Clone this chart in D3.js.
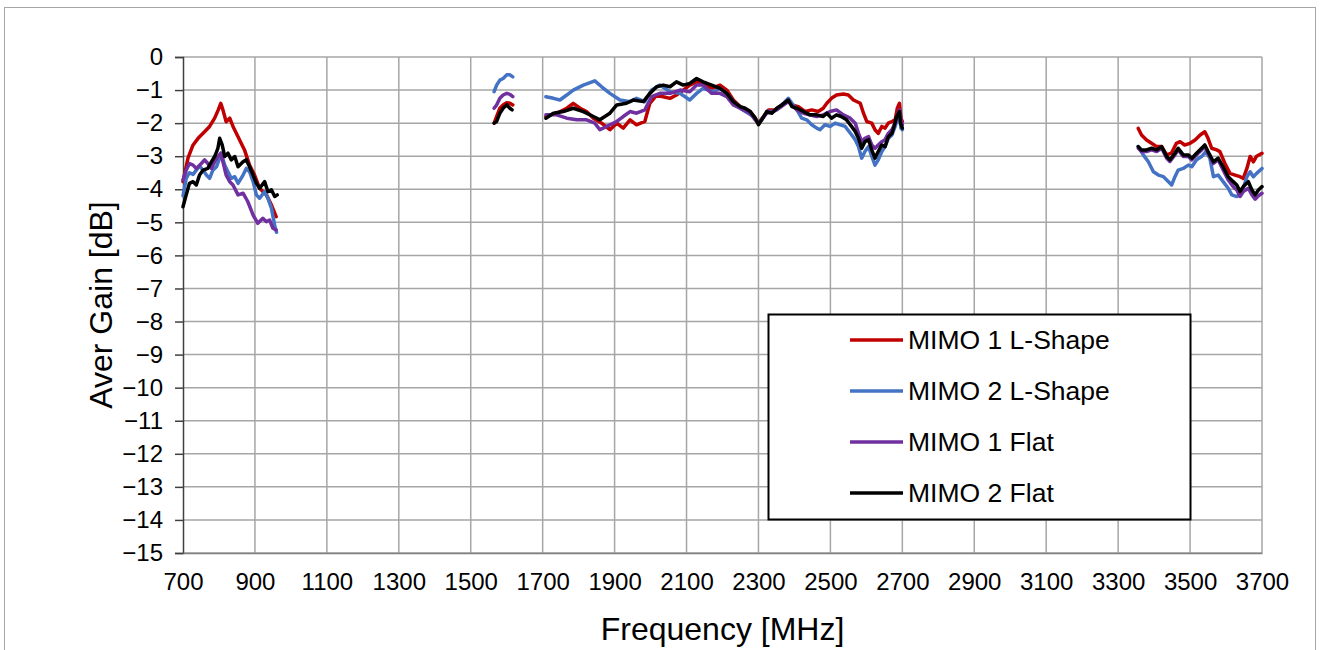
<!DOCTYPE html>
<html>
<head>
<meta charset="utf-8">
<script src="https://cdn.jsdelivr.net/npm/d3@7"></script>
<style>
  html, body { margin: 0; padding: 0; background: #fff; }
  svg { display: block; font-family: "Liberation Sans", Arial, sans-serif; }
</style>
</head>
<body>
<svg id="chart" width="1320" height="650"></svg>
<script>
// Average gain measurements [MHz, dB]; null separates the measured bands.
const mimo1LShape = [
  [700,-3.77],[714,-3.05],[728,-2.66],[742,-2.46],[760,-2.26],[774,-2.1],[788,-1.85],[798,-1.6],[805,-1.4],[811,-1.6],[820,-1.96],[830,-1.85],[839,-2.1],[853,-2.41],[871,-2.81],[885,-3.27],[899,-3.57],[913,-3.97],[932,-4.17],[946,-4.48],[959,-4.83],
  null,
  [1565,-2.0],[1572,-1.8],[1581,-1.55],[1590,-1.45],[1600,-1.38],[1609,-1.4],[1617,-1.45],
  null,
  [1709,-1.8],[1720,-1.75],[1739,-1.7],[1767,-1.55],[1785,-1.4],[1804,-1.55],[1822,-1.65],[1841,-1.85],[1864,-2.0],[1887,-2.2],[1906,-2.0],[1924,-2.15],[1943,-1.9],[1961,-2.05],[1984,-1.95],[1998,-1.4],[2017,-1.15],[2035,-1.2],[2054,-1.25],[2072,-1.15],[2091,-1.0],[2109,-0.85],[2128,-0.75],[2146,-0.8],[2170,-0.95],[2193,-0.85],[2212,-1.0],[2230,-1.3],[2249,-1.5],[2277,-1.65],[2291,-1.85],[2300,-2.0],[2314,-1.8],[2328,-1.6],[2346,-1.6],[2365,-1.45],[2383,-1.3],[2393,-1.45],[2411,-1.5],[2430,-1.65],[2448,-1.6],[2466,-1.65],[2480,-1.55],[2490,-1.4],[2503,-1.25],[2517,-1.15],[2536,-1.12],[2550,-1.15],[2564,-1.3],[2583,-1.4],[2592,-1.7],[2601,-1.95],[2615,-2.0],[2624,-2.2],[2633,-2.31],[2643,-2.1],[2652,-2.15],[2661,-2.0],[2671,-1.95],[2680,-1.9],[2686,-1.55],[2692,-1.4],[2696,-1.85],[2700,-1.95],
  null,
  [3356,-2.16],[3365,-2.36],[3379,-2.51],[3393,-2.61],[3407,-2.71],[3421,-2.71],[3435,-2.96],[3448,-2.91],[3462,-2.61],[3472,-2.56],[3485,-2.66],[3500,-2.61],[3514,-2.51],[3528,-2.36],[3541,-2.26],[3550,-2.46],[3560,-2.76],[3574,-2.81],[3583,-2.86],[3597,-3.22],[3611,-3.52],[3625,-3.57],[3639,-3.62],[3648,-3.67],[3658,-3.37],[3667,-3.01],[3676,-3.17],[3685,-3.0],[3700,-2.91]
];

const mimo2LShape = [
  [700,-4.2],[709,-3.67],[718,-3.5],[728,-3.55],[737,-3.42],[746,-3.3],[756,-3.42],[765,-3.57],[774,-3.67],[783,-3.42],[793,-3.32],[802,-3.06],[806,-2.91],[816,-3.27],[825,-3.47],[834,-3.67],[844,-3.62],[853,-3.82],[867,-3.57],[876,-3.37],[885,-3.47],[895,-3.77],[904,-4.17],[913,-4.27],[927,-4.07],[936,-4.27],[946,-4.58],[955,-5.1],[960,-5.3],
  null,
  [1565,-1.05],[1572,-0.85],[1581,-0.7],[1590,-0.65],[1600,-0.54],[1609,-0.54],[1617,-0.6],
  null,
  [1709,-1.2],[1730,-1.25],[1748,-1.3],[1767,-1.15],[1785,-1.0],[1813,-0.85],[1845,-0.72],[1864,-0.9],[1887,-1.1],[1915,-1.3],[1943,-1.35],[1961,-1.25],[1984,-1.35],[2003,-1.0],[2026,-0.85],[2054,-1.05],[2082,-1.1],[2109,-1.3],[2128,-1.1],[2146,-0.95],[2174,-1.05],[2193,-0.95],[2212,-1.1],[2230,-1.35],[2249,-1.55],[2286,-1.8],[2300,-2.0],[2309,-1.9],[2323,-1.65],[2342,-1.65],[2365,-1.45],[2383,-1.25],[2393,-1.4],[2407,-1.6],[2420,-1.85],[2434,-1.9],[2448,-2.05],[2462,-2.15],[2471,-2.2],[2485,-2.05],[2499,-2.1],[2513,-2.0],[2527,-2.05],[2541,-2.1],[2555,-2.3],[2569,-2.5],[2578,-2.71],[2587,-3.06],[2596,-2.86],[2606,-2.71],[2615,-3.0],[2624,-3.27],[2633,-3.11],[2643,-2.86],[2652,-2.71],[2661,-2.46],[2671,-2.36],[2680,-2.1],[2686,-1.9],[2692,-1.75],[2696,-2.15],[2700,-2.2],
  null,
  [3356,-2.71],[3370,-2.96],[3384,-3.17],[3398,-3.47],[3412,-3.57],[3426,-3.62],[3440,-3.77],[3449,-3.87],[3458,-3.62],[3467,-3.42],[3481,-3.37],[3495,-3.27],[3505,-3.32],[3518,-3.11],[3532,-3.01],[3544,-2.86],[3555,-3.06],[3565,-3.62],[3578,-3.57],[3592,-3.77],[3606,-3.97],[3616,-4.17],[3630,-4.22],[3639,-4.17],[3648,-3.97],[3658,-3.62],[3667,-3.47],[3676,-3.62],[3685,-3.52],[3700,-3.37]
];

const mimo1Flat = [
  [700,-3.72],[709,-3.42],[718,-3.22],[728,-3.27],[737,-3.37],[751,-3.22],[760,-3.11],[769,-3.22],[779,-3.37],[788,-3.17],[797,-3.01],[805,-2.91],[811,-3.17],[820,-3.57],[830,-3.77],[839,-3.87],[853,-4.17],[867,-4.12],[880,-4.37],[895,-4.78],[908,-5.03],[922,-4.88],[932,-4.98],[941,-4.93],[950,-5.18],[959,-5.23],
  null,
  [1565,-1.55],[1572,-1.45],[1581,-1.25],[1590,-1.15],[1600,-1.1],[1609,-1.13],[1617,-1.2],
  null,
  [1709,-1.75],[1739,-1.75],[1767,-1.85],[1795,-1.9],[1822,-1.9],[1845,-2.0],[1859,-2.2],[1878,-2.1],[1906,-1.95],[1924,-1.8],[1943,-1.65],[1961,-1.7],[1984,-1.6],[2003,-1.2],[2026,-1.1],[2054,-1.1],[2082,-1.0],[2109,-1.05],[2128,-0.85],[2146,-0.85],[2170,-1.1],[2193,-1.1],[2212,-1.2],[2230,-1.45],[2249,-1.55],[2277,-1.7],[2291,-1.9],[2300,-2.0],[2323,-1.7],[2351,-1.6],[2383,-1.35],[2407,-1.6],[2425,-1.7],[2462,-1.8],[2480,-1.75],[2499,-1.65],[2517,-1.6],[2536,-1.75],[2555,-1.85],[2569,-2.0],[2578,-2.3],[2587,-2.56],[2596,-2.46],[2606,-2.41],[2615,-2.66],[2624,-2.76],[2633,-2.66],[2643,-2.56],[2652,-2.5],[2661,-2.31],[2671,-2.2],[2680,-2.0],[2686,-1.75],[2692,-1.6],[2696,-1.9],[2700,-2.05],
  null,
  [3356,-2.76],[3365,-2.86],[3379,-2.86],[3393,-2.81],[3407,-2.86],[3421,-2.76],[3435,-3.06],[3444,-3.16],[3458,-2.96],[3467,-2.81],[3481,-3.01],[3495,-3.01],[3505,-3.11],[3518,-2.96],[3532,-2.81],[3541,-2.71],[3550,-2.91],[3565,-3.22],[3578,-3.11],[3592,-3.42],[3606,-3.72],[3620,-3.92],[3630,-4.02],[3639,-4.22],[3648,-4.07],[3662,-3.97],[3672,-4.17],[3681,-4.3],[3690,-4.2],[3700,-4.12]
];

const mimo2Flat = [
  [700,-4.53],[709,-4.17],[718,-3.82],[728,-3.77],[737,-3.87],[746,-3.57],[756,-3.42],[769,-3.37],[779,-3.17],[788,-3.01],[797,-2.76],[802,-2.46],[809,-2.66],[816,-3.01],[825,-2.91],[834,-3.11],[844,-3.01],[853,-3.32],[867,-3.17],[876,-3.11],[885,-3.32],[895,-3.57],[904,-3.82],[913,-3.97],[927,-3.77],[936,-4.07],[946,-4.02],[955,-4.22],[962,-4.17],
  null,
  [1565,-2.0],[1572,-1.95],[1581,-1.7],[1590,-1.55],[1600,-1.45],[1609,-1.55],[1615,-1.6],
  null,
  [1709,-1.85],[1730,-1.7],[1757,-1.65],[1785,-1.55],[1813,-1.65],[1841,-1.8],[1859,-1.9],[1887,-1.7],[1906,-1.45],[1933,-1.4],[1952,-1.3],[1980,-1.35],[1998,-1.1],[2017,-0.9],[2035,-0.85],[2054,-0.9],[2072,-0.75],[2091,-0.85],[2109,-0.8],[2128,-0.65],[2146,-0.75],[2170,-0.85],[2193,-0.95],[2212,-1.1],[2230,-1.35],[2249,-1.5],[2263,-1.55],[2277,-1.65],[2291,-1.85],[2300,-2.05],[2309,-1.9],[2323,-1.65],[2337,-1.7],[2351,-1.55],[2365,-1.45],[2383,-1.3],[2393,-1.5],[2407,-1.55],[2425,-1.65],[2443,-1.75],[2462,-1.75],[2480,-1.8],[2490,-1.7],[2503,-1.85],[2517,-1.75],[2530,-1.8],[2545,-1.9],[2559,-2.1],[2569,-2.25],[2578,-2.46],[2587,-2.76],[2596,-2.56],[2606,-2.5],[2615,-2.81],[2624,-3.06],[2633,-2.86],[2643,-2.66],[2652,-2.71],[2661,-2.41],[2671,-2.31],[2677,-2.1],[2684,-1.8],[2692,-1.65],[2695,-2.0],[2700,-2.15],
  null,
  [3356,-2.71],[3365,-2.81],[3379,-2.81],[3393,-2.76],[3407,-2.81],[3421,-2.71],[3435,-3.01],[3444,-3.11],[3458,-2.91],[3467,-2.76],[3481,-2.96],[3495,-2.96],[3505,-3.06],[3518,-2.91],[3532,-2.76],[3541,-2.66],[3550,-2.86],[3565,-3.17],[3578,-3.06],[3592,-3.32],[3606,-3.62],[3620,-3.77],[3630,-3.87],[3639,-4.07],[3648,-3.92],[3662,-3.77],[3672,-4.02],[3681,-4.17],[3690,-4.02],[3700,-3.92]
];

const seriesNames = ["MIMO 1 L-Shape", "MIMO 2 L-Shape", "MIMO 1 Flat", "MIMO 2 Flat"];
const seriesColors = ["#c00000", "#4472c4", "#7030a0", "#000000"];
const seriesData = [mimo1LShape, mimo2LShape, mimo1Flat, mimo2Flat];

const xTicks = d3.range(700, 3701, 200);   // 700 … 3700 MHz
const yTicks = d3.range(0, -16, -1);       // 0 … -15 dB

const svg = d3.select("#chart");

// chart area frame
svg.append("rect")
  .attr("x", 4.5).attr("y", 7.5)
  .attr("width", 1311).attr("height", 660)
  .attr("fill", "#fff").attr("stroke", "#a6a6a6").attr("stroke-width", 1);

const x = d3.scaleLinear().domain([700, 3700]).range([183, 1262]);
const y = d3.scaleLinear().domain([0, -15]).range([57, 553]);

// grid
const grid = svg.append("g");
grid.selectAll("line.h").data(yTicks).join("line")
  .attr("x1", x(700)).attr("x2", x(3700))
  .attr("y1", d => y(d)).attr("y2", d => y(d))
  .attr("stroke", "#a6a6a6").attr("stroke-width", 1.5);
grid.selectAll("line.v").data(xTicks.slice(1)).join("line")
  .attr("x1", d => x(d)).attr("x2", d => x(d))
  .attr("y1", y(0)).attr("y2", y(-15))
  .attr("stroke", "#a6a6a6").attr("stroke-width", 1.5);

// y axis
const yAxis = svg.append("g")
  .attr("transform", `translate(${x(700)},0)`)
  .call(d3.axisLeft(y).tickValues(yTicks).tickSize(8).tickPadding(12).tickFormat(d3.format("d")));
yAxis.select(".domain").attr("stroke", "#404040").attr("stroke-width", 1.5);
yAxis.selectAll(".tick line").attr("stroke", "#404040").attr("stroke-width", 1.5);
yAxis.selectAll("text").attr("font-size", 24).attr("fill", "#000")
  .attr("font-family", "Liberation Sans, Arial, sans-serif");

// x axis
const xAxis = svg.append("g")
  .attr("transform", `translate(0,${y(-15)})`)
  .call(d3.axisBottom(x).tickValues(xTicks).tickSize(0).tickPadding(20).tickFormat(d3.format("d")));
xAxis.select(".domain").attr("stroke", "#808080").attr("stroke-width", 1.5);
xAxis.selectAll("text").attr("font-size", 24).attr("fill", "#000")
  .attr("font-family", "Liberation Sans, Arial, sans-serif");

// series
const line = d3.line()
  .defined(d => d !== null)
  .x(d => x(d[0]))
  .y(d => y(d[1]));

svg.append("g").selectAll("path").data(seriesData).join("path")
  .attr("d", line)
  .attr("fill", "none")
  .attr("stroke", (d, i) => seriesColors[i])
  .attr("stroke-width", 3.5)
  .attr("stroke-linejoin", "round")
  .attr("stroke-linecap", "round");

// axis titles
svg.append("text")
  .attr("x", (x(700) + x(3700)) / 2).attr("y", 640)
  .attr("text-anchor", "middle")
  .attr("font-size", 32).attr("fill", "#000")
  .text("Frequency [MHz]");

svg.append("text")
  .attr("transform", `translate(112,${(y(0) + y(-15)) / 2}) rotate(-90)`)
  .attr("text-anchor", "middle")
  .attr("font-size", 32).attr("fill", "#000")
  .text("Aver Gain [dB]");

// legend
const legend = svg.append("g");
legend.append("rect")
  .attr("x", 768.5).attr("y", 314.5)
  .attr("width", 422).attr("height", 205)
  .attr("fill", "#fff").attr("stroke", "#000").attr("stroke-width", 2);

const legendRows = legend.selectAll("g.row").data(seriesNames).join("g")
  .attr("transform", (d, i) => `translate(0,${340 + i * 51})`);
legendRows.append("line")
  .attr("x1", 850).attr("x2", 903)
  .attr("stroke", (d, i) => seriesColors[i])
  .attr("stroke-width", 3.5);
legendRows.append("text")
  .attr("x", 908).attr("dy", "0.35em")
  .attr("font-size", 26.5).attr("fill", "#000")
  .text(d => d);
</script>
</body>
</html>
